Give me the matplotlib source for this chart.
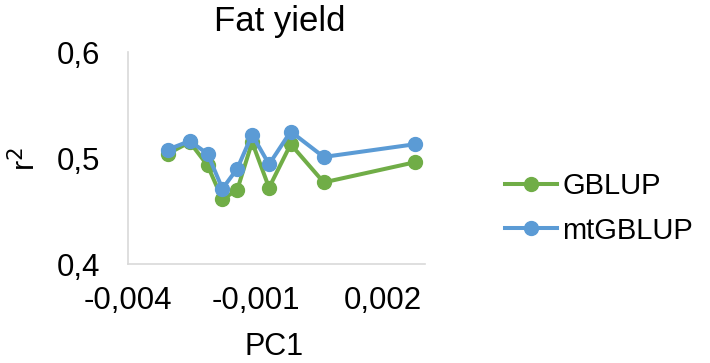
import matplotlib.pyplot as plt
from matplotlib.ticker import FuncFormatter, FixedLocator

plt.rcParams['font.family'] = ['Liberation Sans', 'DejaVu Sans']

# PC1 values (x) and r2 for each model
pc1 = [-0.00307, -0.00255, -0.00213, -0.00178, -0.00143, -0.00108, -0.00068, -0.00017, 0.00061, 0.00276]
gblup = [0.504, 0.515, 0.493, 0.461, 0.470, 0.515, 0.472, 0.513, 0.477, 0.496]
mtgblup = [0.508, 0.516, 0.504, 0.471, 0.490, 0.522, 0.494, 0.525, 0.501, 0.513]

xticks = [-0.004, -0.001, 0.002]
yticks = [0.4, 0.5, 0.6]

green = '#70AD47'
blue = '#5B9BD5'

fig = plt.figure(figsize=(7.1, 3.63), dpi=100)
ax = fig.add_axes([0.1807, 0.2727, 0.418, 0.584])

ax.plot(pc1, gblup, color=green, lw=2.9, marker='o', ms=10, label='GBLUP')
ax.plot(pc1, mtgblup, color=blue, lw=2.9, marker='o', ms=10, label='mtGBLUP')

ax.set_xlim(-0.004, 0.003)
ax.set_ylim(0.4, 0.6)
ax.xaxis.set_major_locator(FixedLocator(xticks))
ax.yaxis.set_major_locator(FixedLocator(yticks))
comma = FuncFormatter(lambda v, p: ('%g' % round(v, 4)).replace('.', ','))
ax.xaxis.set_major_formatter(comma)
ax.yaxis.set_major_formatter(comma)
ax.tick_params(length=0, labelsize=22.5)
ax.tick_params(axis='y', pad=20)
ax.tick_params(axis='x', pad=16)

for s in ['top', 'right']:
    ax.spines[s].set_visible(False)
for s in ['left', 'bottom']:
    ax.spines[s].set_color('#D9D9D9')
    ax.spines[s].set_linewidth(1.2)

fig.text(0.394, 0.9146, 'Fat yield', ha='center', va='baseline', fontsize=25)
fig.text(0.3866, 0.022, 'PC1', ha='center', va='baseline', fontsize=22)
fig.text(0.0366, 0.562, 'r$^2$', ha='center', va='center', fontsize=22, rotation=90)

fig.legend(loc='center left', bbox_to_anchor=(0.711, 0.4256), frameon=False, fontsize=21,
           handlelength=1.8, handletextpad=0.17, labelspacing=0.55, borderpad=0,
           borderaxespad=0)

fig.savefig('out.png', dpi=100)
